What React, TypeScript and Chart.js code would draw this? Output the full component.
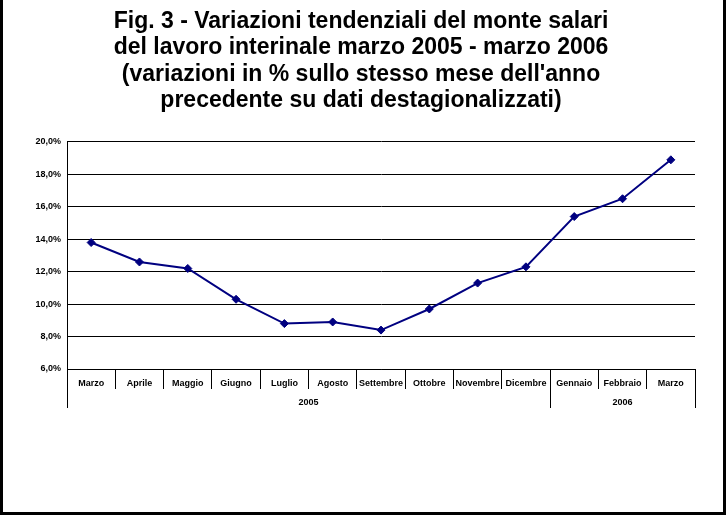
import React, { useEffect, useRef } from "react";
import { Chart, registerables } from "chart.js";

Chart.register(...registerables);

const months = [
  "Marzo", "Aprile", "Maggio", "Giugno", "Luglio", "Agosto", "Settembre",
  "Ottobre", "Novembre", "Dicembre", "Gennaio", "Febbraio", "Marzo",
];
const values = [13.8, 12.6, 12.2, 10.3, 8.8, 8.9, 8.4, 9.7, 11.3, 12.3, 15.4, 16.5, 18.9];
const years = ["2005", "2006"];
const yearStart = [0, 10];
const yearEnd = [9, 12];
const titleLines = [
  "Fig. 3 - Variazioni tendenziali del monte salari",
  "del lavoro interinale marzo 2005 - marzo 2006",
  "(variazioni in % sullo stesso mese dell'anno",
  "precedente su dati destagionalizzati)",
];

const FONT = 'Arial, "Liberation Sans", sans-serif';

const framePlugin = {
  id: "frame",
  beforeDraw(chart: any) {
    const ctx = chart.ctx;
    ctx.save();
    ctx.fillStyle = "#fff";
    ctx.fillRect(0, 0, chart.width, chart.height);
    ctx.strokeStyle = "#000";
    ctx.lineWidth = 3;
    ctx.strokeRect(1.5, -10, 723, 523.5);
    ctx.restore();
  },
};

const groupPlugin = {
  id: "groups",
  afterDraw(chart: any) {
    const ctx = chart.ctx;
    const x = chart.scales.x;
    const bottom = chart.chartArea.bottom;
    const half = (x.getPixelForValue(1) - x.getPixelForValue(0)) / 2;
    ctx.save();
    ctx.strokeStyle = "#000";
    ctx.lineWidth = 1;
    ctx.fillStyle = "#000";
    ctx.font = `bold 9px ${FONT}`;
    ctx.textAlign = "center";
    ctx.textBaseline = "middle";
    years.forEach((y, i) => {
      const l = x.getPixelForValue(yearStart[i]) - half;
      const r = x.getPixelForValue(yearEnd[i]) + half;
      ctx.beginPath();
      ctx.moveTo(Math.round(l) + 0.5, bottom);
      ctx.lineTo(Math.round(l) + 0.5, bottom + 39);
      if (i === years.length - 1) {
        ctx.moveTo(Math.round(r) + 0.5, bottom);
        ctx.lineTo(Math.round(r) + 0.5, bottom + 39);
      }
      ctx.stroke();
      ctx.fillText(y, (l + r) / 2, bottom + 34);
    });
    ctx.restore();
  },
};

export default function App() {
  const ref = useRef<HTMLCanvasElement>(null);
  useEffect(() => {
    if (!ref.current) return;
    const chart = new Chart(ref.current, {
      type: "line",
      data: {
        labels: months,
        datasets: [
          {
            data: values,
            borderColor: "#000080",
            backgroundColor: "#000080",
            borderWidth: 2,
            pointStyle: "rectRot",
            pointRadius: 4,
            pointBorderWidth: 1,
            tension: 0,
          },
        ],
      },
      options: {
        animation: false,
        responsive: false,
        maintainAspectRatio: false,
        layout: { padding: { left: 27, right: 32, top: 0, bottom: 98 } },
        plugins: {
          legend: { display: false },
          tooltip: { enabled: false },
          title: {
            display: true,
            text: titleLines,
            color: "#000",
            font: { family: FONT, size: 23, weight: "bold", lineHeight: 1.152 },
            padding: { top: 8, bottom: 28 },
          },
        },
        scales: {
          x: {
            type: "category",
            offset: true,
            afterFit: (s: any) => { s.height = 50; },
            grid: {
              offset: true,
              drawOnChartArea: false,
              drawTicks: true,
              tickLength: 20,
              color: "#000",
              lineWidth: 1,
            },
            border: { color: "#000", width: 1 },
            ticks: {
              autoSkip: false,
              maxRotation: 0,
              minRotation: 0,
              padding: -11,
              color: "#000",
              font: { family: FONT, size: 9, weight: "bold" },
            },
          },
          y: {
            min: 6,
            max: 20,
            afterFit: (s: any) => { s.width = 40; },
            grid: { color: "#000", lineWidth: 1, drawTicks: false },
            border: { color: "#000", width: 1 },
            ticks: {
              stepSize: 2,
              padding: 6,
              color: "#000",
              font: { family: FONT, size: 9, weight: "bold" },
              callback: (v: any) => Number(v).toFixed(1).replace(".", ",") + "%",
            },
          },
        },
      },
      plugins: [framePlugin, groupPlugin],
    });
    return () => chart.destroy();
  }, []);
  return (
    <div style={{ position: "fixed", left: 0, top: 0, width: 727, height: 517 }}>
      <canvas ref={ref} width={727} height={517} style={{ width: 727, height: 517 }} />
    </div>
  );
}
